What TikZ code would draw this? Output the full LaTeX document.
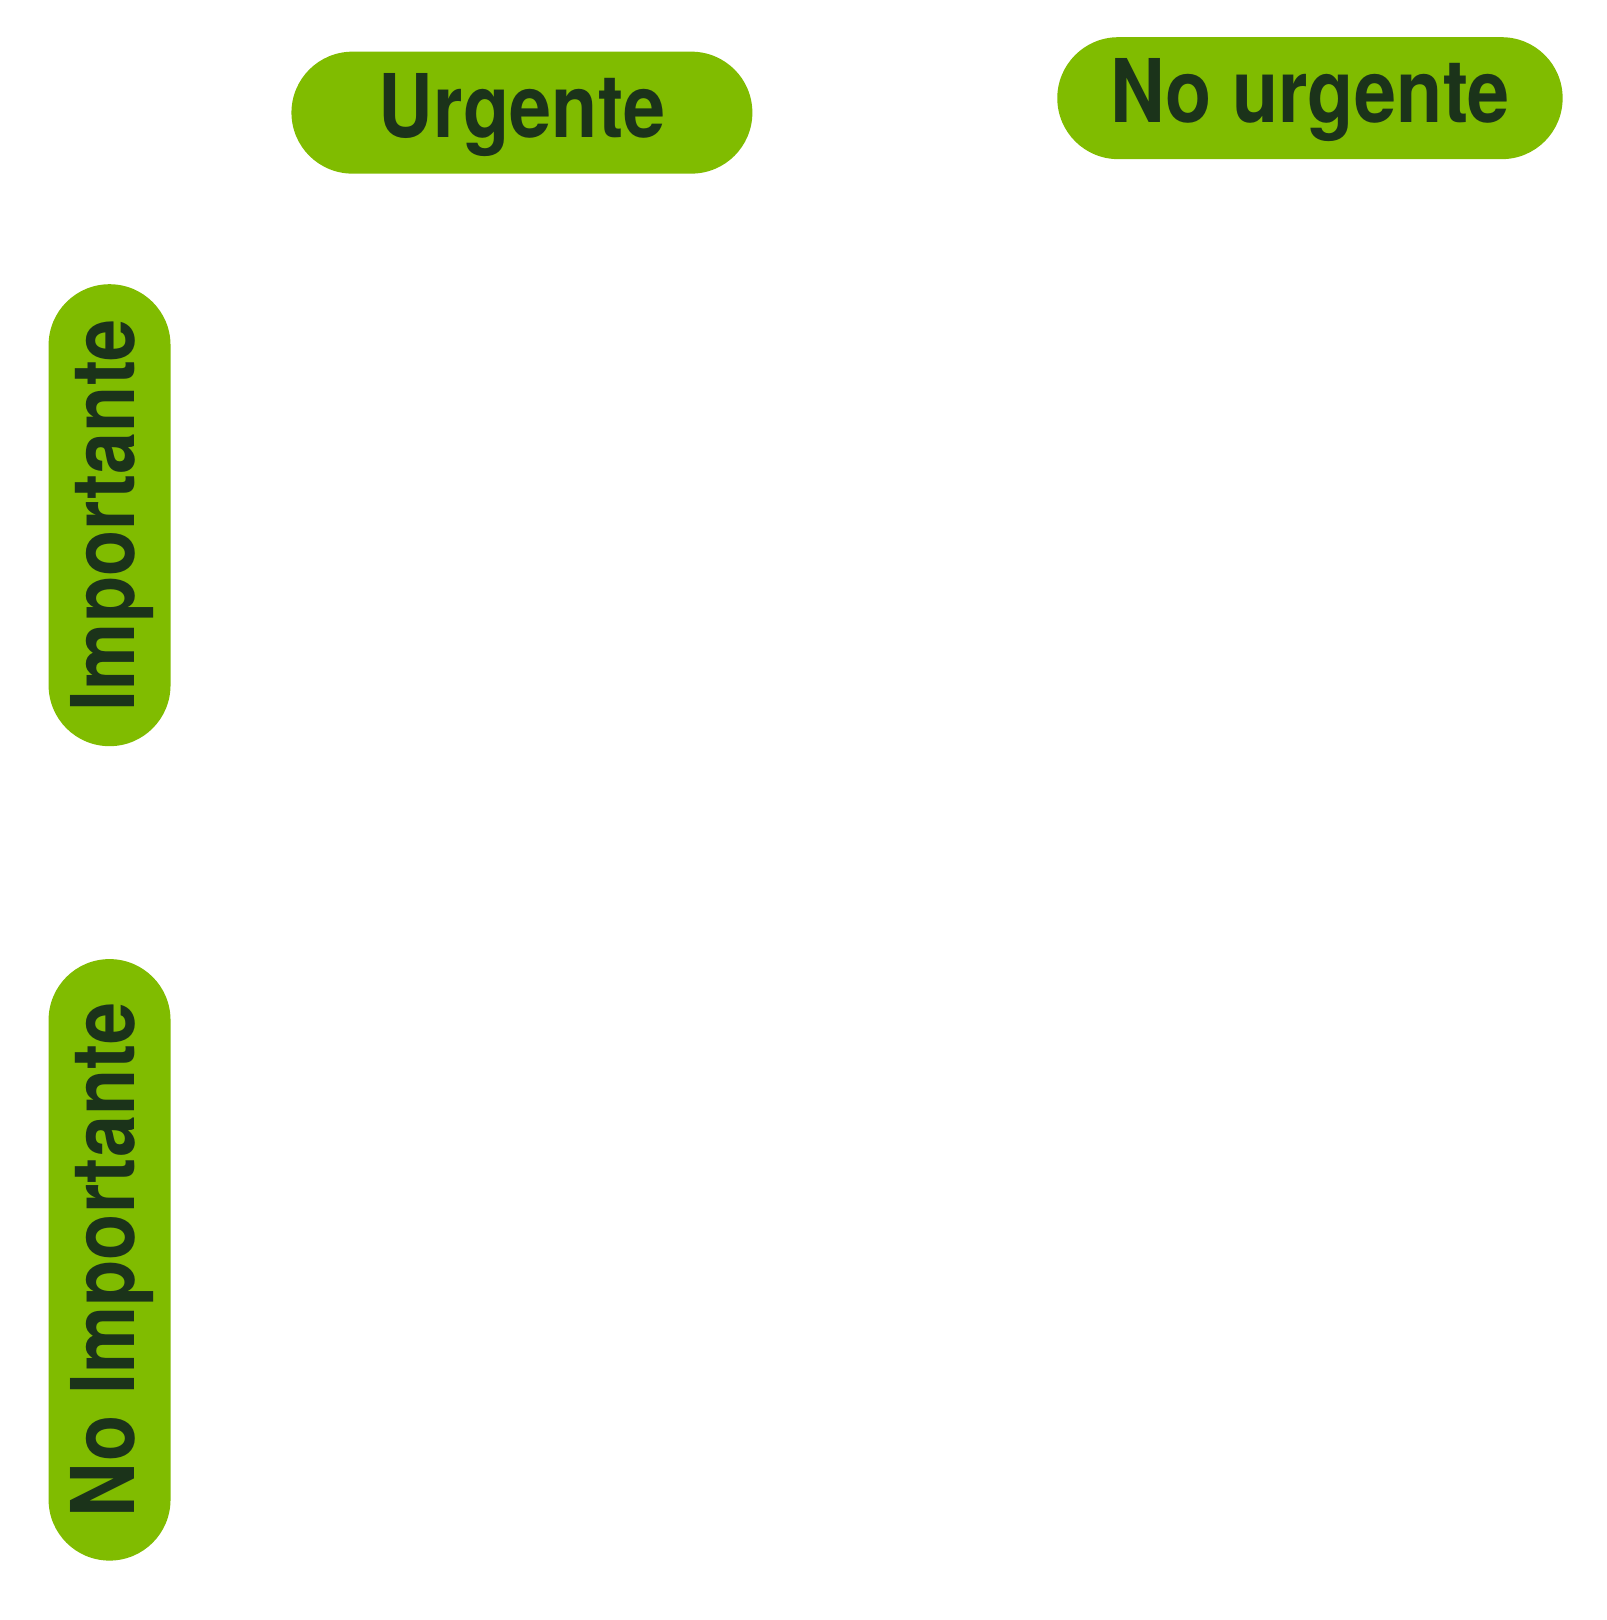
\documentclass[tikz,border=0pt]{standalone}
\usepackage{fontspec}
\setmainfont[FakeStretch=0.86]{TeX Gyre Heros}
\usepackage{tikz}
\definecolor{pillgreen}{HTML}{80BC00}
\definecolor{pilltext}{HTML}{1B331A}
\tikzset{pill/.style={fill=pillgreen,text=pilltext,rounded corners=59pt,minimum height=118pt,inner sep=0pt,text height=62pt,text depth=14pt,font=\fontsize{85}{85}\selectfont\bfseries}}

\begin{document}
\begin{tikzpicture}[x=1pt,y=-1pt]
	\useasboundingbox (0,0) rectangle (1554,1567.5);
	\node[pill,minimum width=446pt] (urg) at (505,109) {Urgente};
	\node[pill,minimum width=489pt] (nourg) at (1267.5,95) {No urgente};
	\node[pill,minimum width=447pt,rotate=90] (imp) at (106,498.5) {Importante};
	\node[pill,minimum width=582pt,rotate=90] (noimp) at (106,1219) {No Importante};
\end{tikzpicture}
\end{document}
